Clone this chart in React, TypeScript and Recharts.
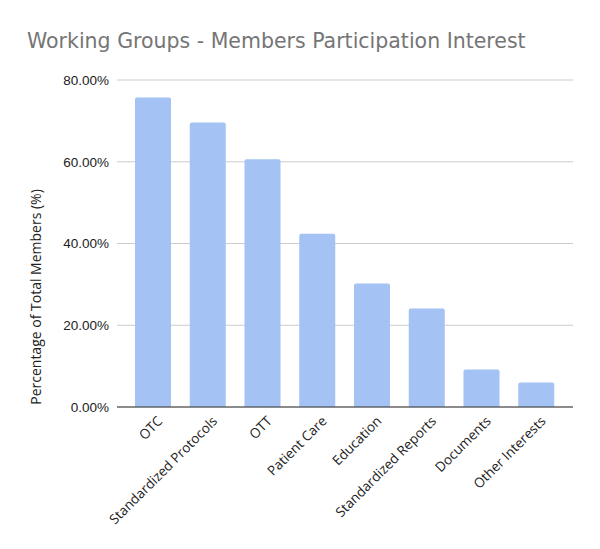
import { Bar, BarChart, CartesianGrid, XAxis, YAxis } from "recharts";

const groups = [
  "OTC",
  "Standardized Protocols",
  "OTT",
  "Patient Care",
  "Education",
  "Standardized Reports",
  "Documents",
  "Other Interests",
];
const interest = [75.7, 69.6, 60.6, 42.4, 30.2, 24.1, 9.2, 6.0];
const yTicks = [0, 20, 40, 60, 80];

const data = groups.map((name, i) => ({ name, value: interest[i] }));

const TITLE_FONT = "'DejaVu Sans', sans-serif";
const TICK_FONT = "'Liberation Sans', Arial, sans-serif";
const LABEL_FONT = "'Open Sans', sans-serif";

// Category names are drawn slanted, anchored at their right end under the bar.
function GroupTick(props: any) {
  const { x, y, payload } = props;
  const ax = x + 10;
  const ay = y + 7;
  return (
    <text
      x={ax}
      y={ay}
      transform={`rotate(-45, ${ax}, ${ay})`}
      textAnchor="end"
      fontSize={13.5}
      fill="#222"
      fontFamily={LABEL_FONT}
    >
      {payload.value}
    </text>
  );
}

export default function App() {
  return (
    <div
      style={{
        position: "absolute",
        left: 0,
        top: 0,
        width: 600,
        height: 549,
        background: "#fff",
      }}
    >
      <div
        style={{
          position: "absolute",
          left: 27,
          top: 29,
          fontSize: 20.5,
          fontFamily: TITLE_FONT,
          color: "#757575",
          whiteSpace: "nowrap",
          lineHeight: "24px",
        }}
      >
        Working Groups - Members Participation Interest
      </div>
      <BarChart
        width={600}
        height={549}
        data={data}
        margin={{ top: 80, right: 27, left: 0, bottom: 12 }}
        barSize={36}
      >
        <CartesianGrid vertical={false} stroke="#cccccc" />
        <XAxis
          dataKey="name"
          interval={0}
          height={130}
          padding={{ left: 9, right: 9 }}
          tick={<GroupTick />}
          tickLine={false}
          axisLine={{ stroke: "#333333" }}
        />
        <YAxis
          width={117}
          domain={[0, 80]}
          ticks={yTicks}
          tickFormatter={(v: number) => `${v.toFixed(2)}%`}
          tick={{ fill: "#222", fontSize: 13.5, fontFamily: TICK_FONT }}
          tickLine={false}
          axisLine={false}
          label={{
            content: () => (
              <text
                x={41}
                y={297}
                transform="rotate(-90, 41, 297)"
                textAnchor="middle"
                fontSize={14}
                fill="#222"
                fontFamily={LABEL_FONT}
              >
                Percentage of Total Members (%)
              </text>
            ),
          }}
        />
        <Bar dataKey="value" fill="#a4c2f4" radius={[2, 2, 0, 0]} isAnimationActive={false} />
      </BarChart>
    </div>
  );
}
